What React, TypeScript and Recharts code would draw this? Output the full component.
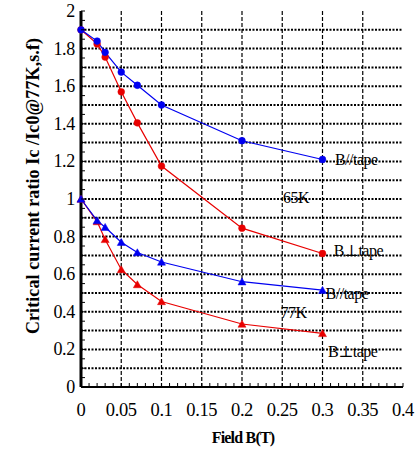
import React from 'react';
import { LineChart, Line, XAxis, YAxis, ReferenceLine, ReferenceDot } from 'recharts';

const fieldB = [0, 0.02, 0.03, 0.05, 0.07, 0.1, 0.2, 0.3];
const par65 = [1.9, 1.84, 1.78, 1.675, 1.605, 1.5, 1.31, 1.21];
const perp65 = [1.9, 1.825, 1.755, 1.57, 1.405, 1.175, 0.845, 0.71];
const par77 = [1.0, 0.885, 0.85, 0.77, 0.715, 0.665, 0.56, 0.515];
const perp77 = [1.0, 0.88, 0.785, 0.625, 0.545, 0.455, 0.335, 0.285];

const xMajorTicks = [0, 0.05, 0.1, 0.15, 0.2, 0.25, 0.3, 0.35, 0.4];
const xMinorTicks = Array.from({ length: 41 }, (_, i) => i / 100);
const yLabelTicks = [0, 0.2, 0.4, 0.6, 0.8, 1, 1.2, 1.4, 1.6, 1.8, 2];
const yMinorTicks = Array.from({ length: 41 }, (_, i) => i / 20);
const hGrid = Array.from({ length: 19 }, (_, i) => (i + 1) / 10);
const vGrid = [0.05, 0.1, 0.15, 0.2, 0.25, 0.3, 0.35];

const annotations = [
  { x: 0.3155, y: 1.207, text: 'B//tape' },
  { x: 0.251, y: 1.01, text: '65K' },
  { x: 0.314, y: 0.723, text: 'B\u22a5tape' },
  { x: 0.304, y: 0.495, text: 'B//tape' },
  { x: 0.248, y: 0.394, text: '77K' },
  { x: 0.307, y: 0.19, text: 'B\u22a5tape' },
];

const rows = fieldB.map((b, i) => ({ B: b, par65: par65[i], perp65: perp65[i], par77: par77[i], perp77: perp77[i] }));

const BLUE = '#0000f0';
const RED = '#e80000';
const serif = { fontFamily: "'Liberation Serif', 'DejaVu Serif', serif" };

const near = (v: number, list: number[]) => list.some((t) => Math.abs(t - v) < 1e-6);
const fmt = (v: number) => String(Math.round(v * 1000) / 1000);

const XTick = (p: any) => {
  const v = p.payload.value;
  return (
    <g>
      <line x1={p.x} x2={p.x} y1={p.y} y2={p.y - 4} stroke="#000" strokeWidth={1} />
      {near(v, xMajorTicks) && (
        <text x={p.x} y={p.y + 23} textAnchor="middle" dominantBaseline="central" style={serif} fontSize={18.5} fill="#000" letterSpacing={-0.4}>
          {fmt(v)}
        </text>
      )}
    </g>
  );
};

const YTickLeft = (p: any) => {
  const v = p.payload.value;
  return (
    <g>
      <line x1={p.x} x2={p.x + 4} y1={p.y} y2={p.y} stroke="#000" strokeWidth={1} />
      {near(v, yLabelTicks) && (
        <text x={p.x - 6} y={p.y} textAnchor="end" dominantBaseline="central" style={serif} fontSize={18} fill="#000" letterSpacing={-0.3}>
          {fmt(v)}
        </text>
      )}
    </g>
  );
};

const YTickRight = (p: any) => (
  <line x1={p.x} x2={p.x - 4} y1={p.y} y2={p.y} stroke="#000" strokeWidth={1.5} />
);

const circleDot = (color: string) => (p: any) => (
  <circle key={p.index} cx={p.cx} cy={p.cy} r={3.4} fill={color} stroke={color} strokeWidth={0.5} />
);
const triDot = (color: string) => (p: any) => {
  const { cx, cy } = p;
  return (
    <polygon key={p.index} points={`${cx - 4},${cy + 3.2} ${cx + 4},${cy + 3.2} ${cx},${cy - 3.8}`} fill={color} stroke={color} strokeWidth={0.5} />
  );
};

const YTitle = (p: any) => {
  const vb = p.viewBox;
  const cx = 33;
  const cy = vb.y + vb.height / 2 - 13;
  return (
    <text x={cx} y={cy} transform={`rotate(-90 ${cx} ${cy})`} textAnchor="middle" dominantBaseline="central" style={serif} fontWeight="bold" fontSize={18} fill="#000" letterSpacing={0.1}>
      Critical current  ratio Ic /Ic0@77K,s.f)
    </text>
  );
};

const XTitle = (p: any) => {
  const vb = p.viewBox;
  return (
    <text x={vb.x + vb.width / 2 + 1} y={vb.y + 50} textAnchor="middle" dominantBaseline="central" style={serif} fontWeight="bold" fontSize={16} fill="#000" letterSpacing={-0.8}>
      Field B(T)
    </text>
  );
};

const annoLabel = (text: string) => (p: any) => (
  <text x={p.viewBox.x} y={p.viewBox.y} dominantBaseline="central" style={serif} fontSize={16} fill="#000" letterSpacing={-0.5}>
    {text}
  </text>
);

export default function App() {
  return (
    <div style={{ position: 'absolute', left: 0, top: 0 }}>
      <LineChart width={419} height={449} data={rows} margin={{ top: 11, right: 16, bottom: 0, left: 0 }}>
        <XAxis
          xAxisId={0}
          dataKey="B"
          type="number"
          domain={[0, 0.4]}
          ticks={xMinorTicks}
          interval={0}
          tickSize={0}
          tickMargin={0}
          tickLine={false}
          tick={<XTick />}
          height={62}
          axisLine={{ stroke: '#000', strokeWidth: 2 }}
          label={<XTitle />}
        />
        <XAxis xAxisId="top" orientation="top" dataKey="B" type="number" domain={[0, 0.4]} height={0} tick={false} tickLine={false} axisLine={{ stroke: '#000', strokeWidth: 2.5 }} />
        <YAxis
          yAxisId={0}
          type="number"
          domain={[0, 2]}
          ticks={yMinorTicks}
          interval={0}
          tickSize={0}
          tickMargin={0}
          tickLine={false}
          tick={<YTickLeft />}
          width={81}
          axisLine={{ stroke: '#000', strokeWidth: 3 }}
          label={<YTitle />}
        />
        <YAxis
          yAxisId="right"
          orientation="right"
          type="number"
          domain={[0, 2]}
          ticks={yMinorTicks}
          interval={0}
          tickSize={0}
          tickMargin={0}
          tickLine={false}
          tick={<YTickRight />}
          width={0}
          axisLine={{ stroke: '#000', strokeWidth: 3 }}
        />
        {hGrid.map((v) => (
          <ReferenceLine key={'h' + v} y={v} stroke="#000" strokeWidth={2} strokeDasharray="2 1.5" />
        ))}
        {vGrid.map((v) => (
          <ReferenceLine key={'v' + v} x={v} stroke="#000" strokeWidth={1.2} strokeDasharray="4 2" />
        ))}
        <Line dataKey="perp65" stroke={RED} strokeWidth={1.2} dot={circleDot(RED)} isAnimationActive={false} />
        <Line dataKey="par65" stroke={BLUE} strokeWidth={1.2} dot={circleDot(BLUE)} isAnimationActive={false} />
        <Line dataKey="perp77" stroke={RED} strokeWidth={1.2} dot={triDot(RED)} isAnimationActive={false} />
        <Line dataKey="par77" stroke={BLUE} strokeWidth={1.2} dot={triDot(BLUE)} isAnimationActive={false} />
        {annotations.map((a, i) => (
          <ReferenceDot key={'a' + i} x={a.x} y={a.y} r={0.1} fill="none" stroke="none" label={annoLabel(a.text)} />
        ))}
      </LineChart>
    </div>
  );
}
